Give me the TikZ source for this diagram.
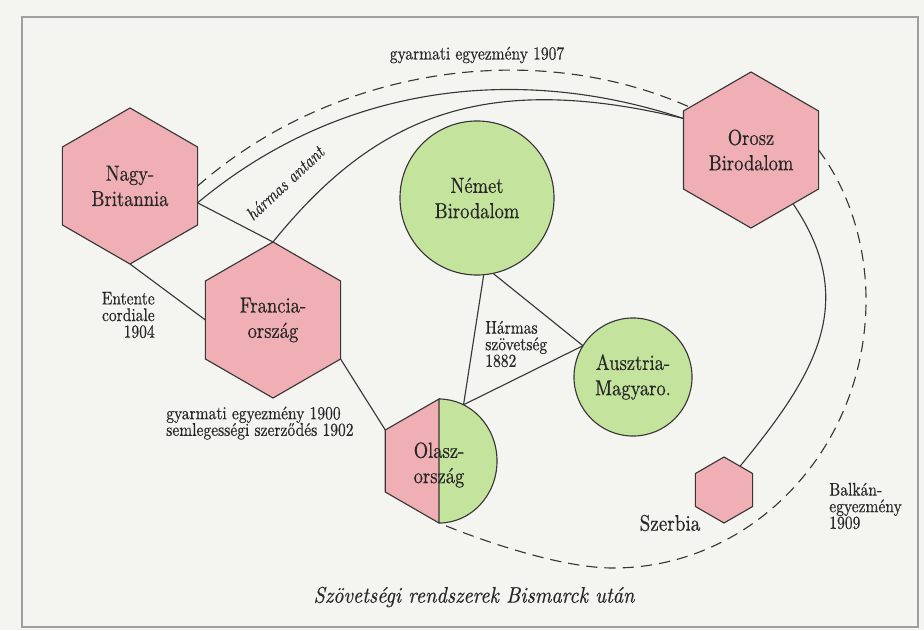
\documentclass[tikz,border=0pt]{standalone}
\usepackage{fontspec}
\newfontfamily\narrowfont{lmroman10-regular.otf}[FakeStretch=0.85,FakeBold=0.5,
  ItalicFont=lmroman10-italic.otf]
\newfontfamily\captionfont{lmroman10-italic.otf}[FakeStretch=0.9,FakeBold=0.5]
\usepackage{tikz}
\usetikzlibrary{shapes.geometric}

\definecolor{paper}{RGB}{244,244,241}
\definecolor{hexpink}{RGB}{240,175,180}
\definecolor{roundgreen}{RGB}{196,228,158}
\definecolor{linegray}{RGB}{55,55,55}
\definecolor{textgray}{RGB}{40,40,40}

\begin{document}
\begin{tikzpicture}[x=0.025cm,y=-0.025cm,
  hexa/.style={regular polygon,regular polygon sides=6,shape border rotate=30,
    draw=linegray,line width=0.8pt,fill=hexpink,minimum size=3.9cm,
    inner sep=0pt,outer sep=0pt,align=center,text=textgray,
    font=\narrowfont\fontsize{15.5}{18}\selectfont},
  roundel/.style={circle,draw=linegray,line width=0.8pt,fill=roundgreen,
    minimum size=#1,inner sep=0pt,outer sep=0pt,align=center,text=textgray,
    font=\narrowfont\fontsize{15.5}{18}\selectfont},
  link/.style={draw=linegray,line width=0.8pt},
  pact/.style={link,dash pattern=on 8pt off 5pt},
  note/.style={inner sep=0pt,text=textgray,font=\narrowfont\fontsize{13}{11.8}\selectfont}]

\fill[paper] (0,0) rectangle (924,630);
\useasboundingbox (0,0) rectangle (924,630);
\draw[gray!75,line width=0.8pt] (22,17) rectangle (918,627);

\node[hexa] (nb) at (130,186) {Nagy-\\Britannia};
\node[hexa] (fr) at (273,320) {Francia-\\ország};
\node[hexa] (or) at (751,150) {Orosz\\Birodalom};
\node[hexa,minimum size=1.65cm] (sz) at (724,490) {};
\node[roundel=3.85cm] (nem) at (477,198) {Német\\Birodalom};
\node[roundel=2.95cm] (au) at (633,377) {Ausztria-\\Magyaro.};

% Olasz-ország: half hexagon, half round
\node[hexa,draw=none,fill=none,minimum size=3.1cm] (ol) at (439,461) {};
\fill[hexpink] (ol.north) -- (ol.150) -- (ol.210) -- (ol.south) -- cycle;
\fill[roundgreen] (ol.north) arc[start angle=90,end angle=-90,x radius=1.45cm,y radius=1.55cm] -- cycle;
\draw[link] (ol.south) -- (ol.210) -- (ol.150) -- (ol.north) -- (ol.south)
  arc[start angle=-90,end angle=90,x radius=1.45cm,y radius=1.55cm];
\node[text=textgray,align=center,font=\narrowfont\fontsize{15.5}{18}\selectfont] (olname) at (439,465) {Olasz-\\ország};
\path (ol) ++(65:1.45cm and 1.55cm) coordinate (olr);

% connections
\draw[pact] (nb.east) .. controls (330,70) and (530,36) .. (or.145);
\draw[link] (nb.-14) .. controls (339,85) and (516,63) .. (or.155);
\draw[link] (fr.north) .. controls (374,117) and (483,70) .. (or.155);
\draw[link] (nb.-14) -- (fr.north);
\draw[link] (nb.south) -- (fr.west);
\draw[link] (fr.-30) -- (ol.150);
\draw[link] (olr) -- (nem.-85);
\draw[link] (olr) -- (au.148);
\draw[link] (nem.-78) -- (au.148);
\draw[link] (or.-52) .. controls (860,302) and (815,375) .. (sz.56);
\draw[pact] (or.east) .. controls (852,195) and (866,250) .. (866,300)
  .. controls (866,448) and (753,568) .. (613,568)
  .. controls (560,568) and (480,540) .. (ol.south);

% labels
\node[note] (c1907) at (477,55) {gyarmati egyezmény 1907};
\node[note,font=\narrowfont\fontsize{13}{11.8}\selectfont\itshape,rotate=43] (antant) at (285,183) {hármas antant};
\node[note,align=right,anchor=east] (entente) at (155,315) {Entente\\cordiale\\1904};
\node[note,align=left,anchor=west] (c1900) at (166,423) {gyarmati egyezmény 1900\\semlegességi szerződés 1902};
\node[note,align=left,anchor=west] (harmas) at (485,344) {Hármas\\szövetség\\1882};
\node[note,align=left,anchor=west] (balkan) at (829,506) {Balkán-\\egyezmény\\1909};
\node[text=textgray,font=\narrowfont\fontsize{16}{18}\selectfont] (szname) at (670,523) {Szerbia};
\node[text=textgray,font=\captionfont\fontsize{16}{18}\selectfont] (caption) at (474,597) {Szövetségi rendszerek Bismarck után};

\end{tikzpicture}
\end{document}
